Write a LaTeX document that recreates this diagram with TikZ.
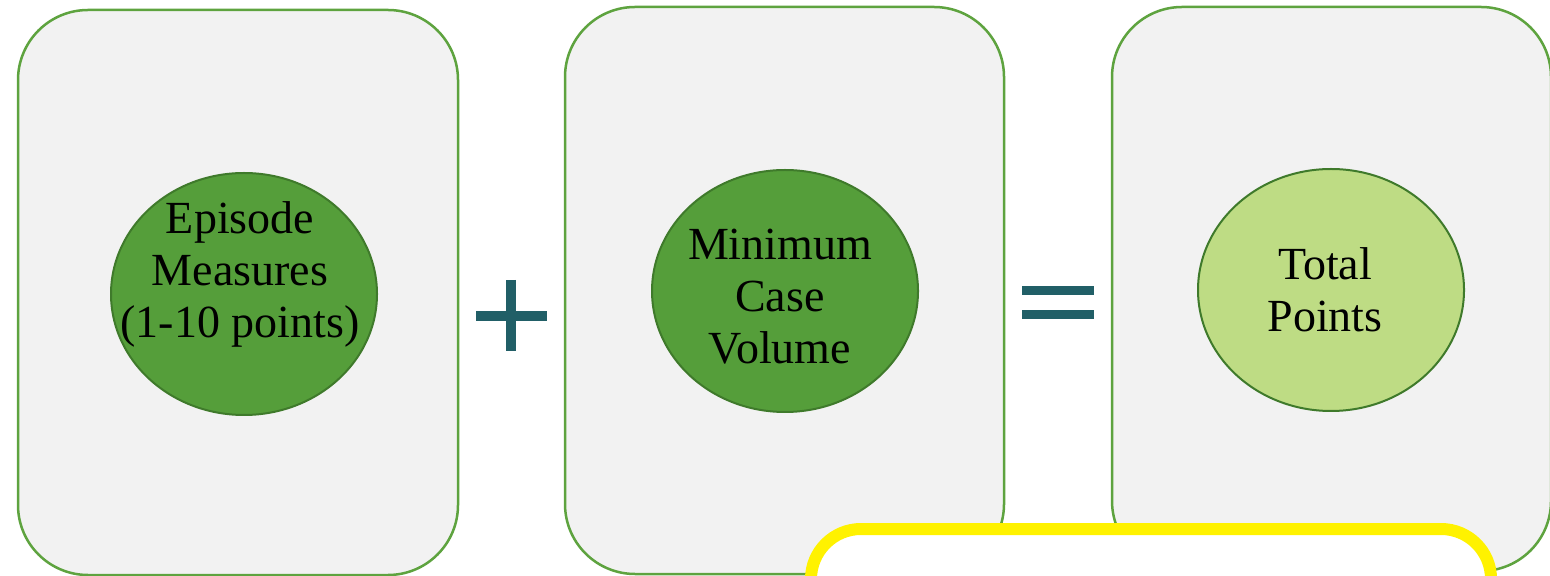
\documentclass[tikz,border=0pt]{standalone}
\usepackage{fontspec}
\setmainfont{Liberation Serif}
\usetikzlibrary{shapes.geometric}
\definecolor{panelbg}{HTML}{F2F2F2}
\definecolor{panelline}{HTML}{5EA33F}
\definecolor{leaf}{HTML}{559E3A}
\definecolor{leafline}{HTML}{3F7A2B}
\definecolor{lime}{HTML}{BEDC84}
\definecolor{opsign}{HTML}{215F67}
\tikzset{
  panel/.style={draw=panelline, line width=1.25pt, fill=panelbg, rounded corners=35pt},
  bubble/.style={ellipse, draw=leafline, line width=1pt, fill=leaf,
    minimum width=133pt, minimum height=121pt, inner sep=0pt},
  words/.style={align=center, font=\fontsize{23}{26}\selectfont, inner sep=0pt}
}

\begin{document}
\begin{tikzpicture}[x=0.5pt,y=-0.5pt]
  \useasboundingbox (0,0) rectangle (1550,576);
  \clip (0,0) rectangle (1550,576);
  % the three panels
  \draw[panel] (18,10) rectangle (458,575);
  \draw[panel] (565,7) rectangle (1004,574);
  \draw[panel] (1112,7) rectangle (1551,571);
  % bubbles and their texts
  \node[bubble] (ep) at (244,294) {};
  \node[words] (ept) at ([xshift=-2pt,yshift=10pt]ep.center) {Episode\\Measures\\(1-10 points)};
  \node[bubble] (mcv) at (785,291) {};
  \node[words] (mcvt) at ([xshift=-2.5pt,yshift=-3pt]mcv.center) {Minimum\\Case\\Volume};
  \node[bubble, fill=lime] (tp) at (1331,290) {};
  \node[words] (tpt) at ([xshift=-3pt]tp.center) {Total\\Points};
  % plus and equals
  \draw[opsign, line width=5pt] (476,316) -- (547,316) (511,280) -- (511,351);
  \draw[opsign, line width=4.5pt] (1022,290.5) -- (1094,290.5) (1022,314.5) -- (1094,314.5);
  % yellow frame at the bottom
  \draw[yellow, line width=6pt, fill=white, rounded corners=25pt]
    (811,650) -- (811,529) -- (1491,529) -- (1491,650);
\end{tikzpicture}
\end{document}
